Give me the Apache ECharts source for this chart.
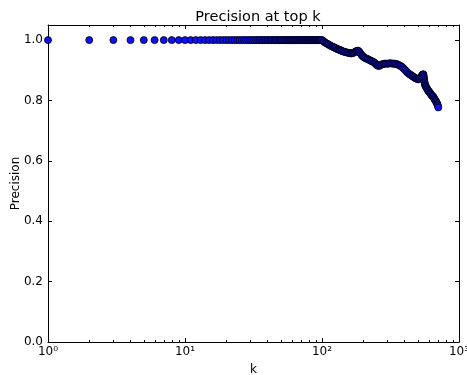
<!DOCTYPE html>
<html>
<head>
<meta charset="utf-8">
<script src="https://cdn.jsdelivr.net/npm/echarts@6/dist/echarts.min.js"></script>
<style>
  html, body { margin: 0; padding: 0; background: #fff; }
  #chart { width: 467px; height: 375px; }
</style>
</head>
<body>
<div id="chart"></div>
<script>
// flat part: every k from 1 to 99 has precision 1.0
const kHead = [1,2,3,4,5,6,7,8,9,10,11,12,13,14,15,16,17,18,19,20,21,22,23,24,25,26,27,28,29,30,
  31,32,33,34,35,36,37,38,39,40,41,42,43,44,45,46,47,48,49,50,51,52,53,54,55,56,57,58,59,60,
  61,62,63,64,65,66,67,68,69,70,71,72,73,74,75,76,77,78,79,80,81,82,83,84,85,86,87,88,89,90,
  91,92,93,94,95,96,97,98,99];
const pHead = kHead.map(() => 1.0);

// tail
const kTail = [100,102,104,106,108,110,112,114,116,118,120,122,124,126,128,130,132,134,136,138,
  140,143,146,149,152,155,158,161,164,167,170,173,176,179,182,185,188,191,194,197,200,204,208,
  212,216,220,224,228,232,236,240,244,248,252,256,260,265,270,275,280,286,292,298,305,312,319,
  326,333,340,347,354,361,368,375,382,390,398,406,414,422,430,438,447,456,464,472,480,488,496,
  505,512,519,526,533,540,545,549,551,553,555,557,559,561,563,565,570,575,580,586,592,597,603,
  610,617,623,630,636,643,649,656,662,668,675,681,688,693,697,701,706];
const pTail = [1.000,0.997,0.994,0.991,0.989,0.987,0.985,0.983,0.981,0.979,0.978,0.976,0.975,
  0.973,0.972,0.970,0.969,0.968,0.967,0.965,0.964,0.962,0.961,0.960,0.959,0.958,0.957,0.956,
  0.956,0.957,0.958,0.960,0.962,0.964,0.965,0.964,0.960,0.956,0.951,0.948,0.945,0.942,0.940,
  0.938,0.937,0.935,0.933,0.931,0.930,0.928,0.926,0.923,0.920,0.917,0.915,0.914,0.916,0.918,
  0.920,0.921,0.922,0.922,0.922,0.922,0.923,0.923,0.922,0.922,0.922,0.921,0.920,0.918,0.916,
  0.914,0.912,0.908,0.904,0.900,0.896,0.892,0.889,0.886,0.884,0.881,0.879,0.876,0.874,0.873,
  0.871,0.870,0.872,0.874,0.877,0.881,0.885,0.886,0.887,0.883,0.878,0.873,0.868,0.863,0.859,
  0.855,0.851,0.848,0.845,0.842,0.838,0.835,0.832,0.830,0.827,0.824,0.821,0.818,0.816,0.814,
  0.812,0.808,0.805,0.802,0.799,0.796,0.792,0.789,0.786,0.782,0.777];

const minorTicks = [2,3,4,5,6,7,8,9,20,30,40,50,60,70,80,90,200,300,400,500,600,700,800,900];
const sup = ["\u2070", "\u00b9", "\u00b2", "\u00b3"];

const font = "DejaVu Sans";
const points = kHead.map((k, i) => [k, pHead[i]]).concat(kTail.map((k, i) => [k, pTail[i]]));

const chart = echarts.init(document.getElementById("chart"));

const frameLine = { show: true, onZero: false, lineStyle: { color: "#000", width: 1 } };

chart.setOption({
  animation: false,
  backgroundColor: "#fff",
  textStyle: { fontFamily: font },
  title: {
    text: "Precision at top k",
    left: 253, top: 5, textAlign: "center",
    textStyle: { fontFamily: font, fontSize: 14.5, fontWeight: "normal", color: "#000" }
  },
  grid: { left: 48, right: 8, top: 25, bottom: 33, containLabel: false, outerBoundsMode: "none" },
  xAxis: [
    {
      type: "log", logBase: 10, min: 1, max: 1000,
      name: "k", nameLocation: "middle", nameGap: 22, nameMoveOverlap: false,
      nameTextStyle: { fontFamily: font, fontSize: 12, color: "#000" },
      axisLine: frameLine,
      axisTick: { show: true, inside: true, length: 4, lineStyle: { color: "#000" } },
      axisLabel: {
        color: "#000", fontFamily: font, fontSize: 12, margin: 4,
        formatter: v => "10" + sup[Math.round(Math.log10(v))]
      },
      splitLine: { show: false }
    },
    {
      type: "log", logBase: 10, min: 1, max: 1000, position: "top",
      axisLine: frameLine,
      axisTick: { show: true, inside: true, length: 4, lineStyle: { color: "#000" } },
      axisLabel: { show: false },
      splitLine: { show: false }
    }
  ],
  yAxis: [
    {
      type: "value", min: 0, max: 1.05, interval: 0.2,
      name: "Precision", nameLocation: "middle", nameGap: 26, nameRotate: 90, nameMoveOverlap: false,
      nameTextStyle: { fontFamily: font, fontSize: 12, color: "#000" },
      axisLine: frameLine,
      axisTick: { show: true, inside: true, length: 4, lineStyle: { color: "#000" } },
      axisLabel: {
        color: "#000", fontFamily: font, fontSize: 12, margin: 5, showMaxLabel: false,
        formatter: v => (Math.abs(v * 5 - Math.round(v * 5)) < 1e-6 ? v.toFixed(1) : "")
      },
      splitLine: { show: false }
    },
    {
      type: "value", min: 0, max: 1.05, interval: 0.2, position: "right",
      axisLine: frameLine,
      axisTick: { show: true, inside: true, length: 4, lineStyle: { color: "#000" } },
      axisLabel: { show: false },
      splitLine: { show: false }
    }
  ],
  series: [
    {
      // minor log ticks on bottom and top edges
      type: "custom",
      silent: true,
      xAxisIndex: 0, yAxisIndex: 0,
      data: minorTicks.map(v => [v, 0]),
      renderItem: (params, api) => {
        const b = api.coord([api.value(0), 0]);
        const t = api.coord([api.value(0), 1.05]);
        const x = Math.round(b[0]) + 0.5;
        return {
          type: "group",
          children: [
            { type: "line", shape: { x1: x, y1: b[1], x2: x, y2: b[1] - 2 }, style: { stroke: "#000", lineWidth: 1 } },
            { type: "line", shape: { x1: x, y1: t[1], x2: x, y2: t[1] + 2 }, style: { stroke: "#000", lineWidth: 1 } }
          ]
        };
      }
    },
    {
      type: "scatter",
      xAxisIndex: 0, yAxisIndex: 0,
      data: points,
      symbol: "circle",
      symbolSize: 7,
      itemStyle: { color: "#1010f0", borderColor: "#000", borderWidth: 0.8, opacity: 1 },
      clip: false
    }
  ]
});
</script>
</body>
</html>
